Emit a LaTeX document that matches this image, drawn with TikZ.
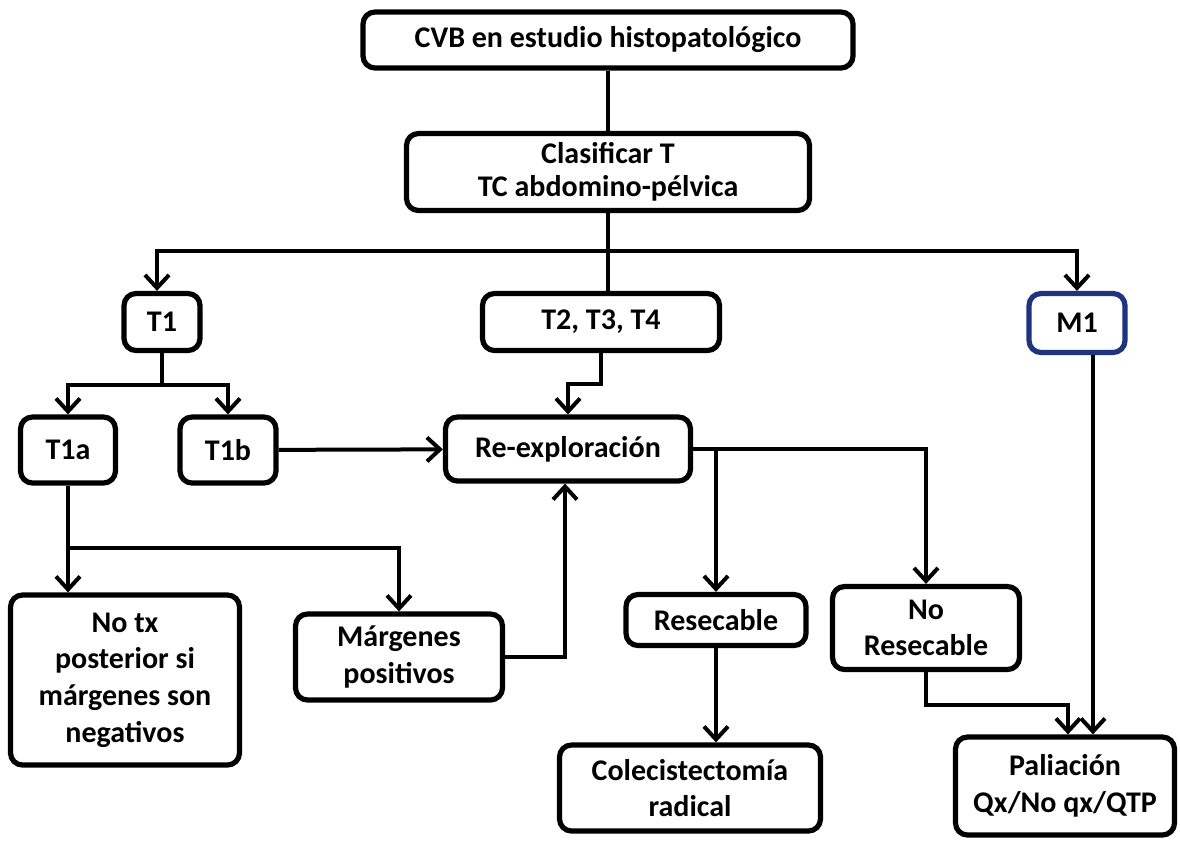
\documentclass[tikz,border=0pt]{standalone}
\usepackage{fontspec}
\setmainfont{Carlito}
\usepackage{tikz}
\usetikzlibrary{arrows.meta,calc,positioning}
\definecolor{mblue}{RGB}{30,52,125}

\tikzset{
  caja/.style={draw, line width=2.6pt, rounded corners=6pt, align=center, fill=white,
    inner sep=0pt, font=\bfseries\fontsize{15}{18.3}\selectfont},
  flecha/.style={line width=2pt, -{Straight Barb[length=6.5pt,width=12pt,line width=2pt]}},
  linea/.style={line width=2pt}
}

\begin{document}
\begin{tikzpicture}[x=0.5pt,y=-0.5pt]
\useasboundingbox (0,0) rectangle (1180,842);
% cajas
\node[caja, minimum width=245pt, minimum height=28pt] (cvb) at (608,40) {CVB en estudio histopatológico};
\node[caja, minimum width=201.5pt, minimum height=38.5pt, font=\bfseries\fontsize{15}{16.5}\selectfont] (clas) at (608,172) {Clasificar T\\TC abdomino-pélvica};
\node[caja, minimum width=38pt, minimum height=28.5pt] (tone) at (162,322) {T1};
\node[caja, minimum width=118.5pt, minimum height=28.5pt] (tmid) at (601,322) {T2, T3, T4};
\node[caja, draw=mblue, minimum width=48pt, minimum height=29.5pt] (mone) at (1077,323) {M1};
\node[caja, minimum width=47.5pt, minimum height=33pt] (tonea) at (68,450) {T1a};
\node[caja, minimum width=48pt, minimum height=33pt] (toneb) at (228,450) {T1b};
\node[caja, minimum width=122.5pt, minimum height=32pt] (rexp) at (568,449) {Re-exploración};
\node[caja, minimum width=114.5pt, minimum height=85pt] (notx) at (125,680) {No tx\\posterior si\\márgenes son\\negativos};
\node[caja, minimum width=103.5pt, minimum height=43pt] (marg) at (399,657) {Márgenes\\positivos};
\node[caja, minimum width=90pt, minimum height=25.5pt] (res) at (716,620) {Resecable};
\node[caja, minimum width=93.5pt, minimum height=41.5pt] (nores) at (926,628) {No\\Resecable};
\node[caja, minimum width=130.5pt, minimum height=43pt] (cole) at (690,788) {Colecistectomía\\radical};
\node[caja, minimum width=109.5pt, minimum height=49pt] (pal) at (1065,786) {Paliación\\Qx/No qx/QTP};
% puntos de reparto
\coordinate (hub) at (608,251);
\coordinate (tsplit) at (162,385);
\coordinate (asplit) at (68,548);
% conectores
\draw[linea] (cvb) -- (clas);
\draw[linea] (clas) -- (hub) -- (hub |- tmid.north);
\draw[flecha] (hub) -| ([xshift=-2.5pt]tone.north);
\draw[flecha] (hub) -| (mone.north);
\draw[linea] (tone) -- (tsplit);
\draw[flecha] (tsplit) -| (tonea.north);
\draw[flecha] (tsplit) -| (toneb.north);
\draw[flecha] (toneb) -- (rexp);
\draw[flecha] (tmid.south) -- ++(0,31) -| (rexp.north);
\draw[flecha] (rexp.east) -| (nores.north);
\draw[flecha] (rexp.east -| res.north) -- (res.north);
\draw[flecha] (res) -- (res.south |- cole.north);
\draw[linea] (tonea) -- (asplit);
\draw[flecha] (asplit) -- (asplit |- notx.north);
\draw[flecha] (asplit) -| (marg.north);
\draw[flecha] (marg.east) -| ([xshift=-1.5pt]rexp.south);
\draw[flecha] (nores.south) -- ++(0,33) -| ([xshift=1.5pt]pal.north);
\draw[flecha] ([xshift=8pt]mone.south) -- ([xshift=8pt]mone.south |- pal.north);
\end{tikzpicture}
\end{document}
